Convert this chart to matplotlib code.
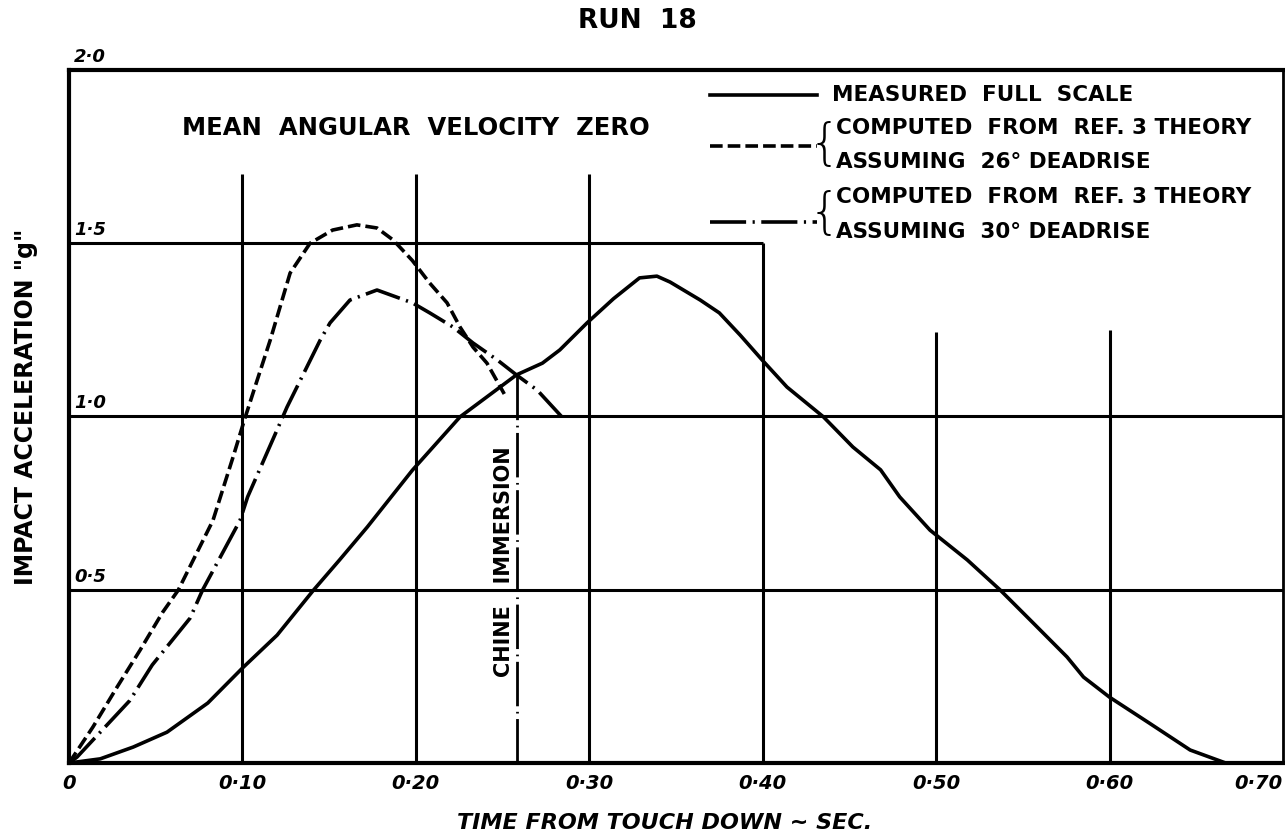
import matplotlib
matplotlib.use("Agg")
import matplotlib.pyplot as plt

# measured full scale
t_meas = [0, 0.018, 0.037, 0.0565, 0.08, 0.10, 0.12, 0.141, 0.156, 0.172, 0.198,
          0.2255, 0.2486, 0.258, 0.273, 0.283, 0.2987, 0.314, 0.329, 0.339, 0.3466,
          0.364, 0.375, 0.387, 0.3997, 0.414, 0.435, 0.452, 0.468, 0.479, 0.4965,
          0.518, 0.537, 0.556, 0.5755, 0.585, 0.600, 0.623, 0.6465, 0.667]
g_meas = [0, 0.012, 0.046, 0.089, 0.173, 0.274, 0.369, 0.499, 0.586, 0.681, 0.845,
          0.999, 1.085, 1.12, 1.154, 1.192, 1.27, 1.34, 1.40, 1.405, 1.388,
          1.336, 1.299, 1.235, 1.163, 1.085, 0.999, 0.912, 0.846, 0.768, 0.672,
          0.586, 0.499, 0.404, 0.306, 0.248, 0.190, 0.115, 0.0375, 0.0]

# computed, 26 deg deadrise
t_26 = [0, 0.0138, 0.0277, 0.041, 0.054, 0.063, 0.083, 0.0946, 0.1015, 0.108,
        0.116, 0.1275, 0.139, 0.152, 0.166, 0.1776, 0.187, 0.198, 0.208, 0.218,
        0.2255, 0.233, 0.241, 0.251]
g_26 = [0, 0.104, 0.219, 0.326, 0.435, 0.499, 0.70, 0.883, 0.996, 1.097,
        1.22, 1.414, 1.50, 1.538, 1.553, 1.544, 1.509, 1.45, 1.385, 1.328,
        1.258, 1.20, 1.154, 1.065]

# computed, 30 deg deadrise
t_30 = [0, 0.0046, 0.035, 0.048, 0.0698, 0.077, 0.0986, 0.103, 0.1217, 0.1257,
        0.1448, 0.1505, 0.162, 0.1776, 0.198, 0.208, 0.2215, 0.233, 0.247, 0.258,
        0.27, 0.284]
g_30 = [0, 0.017, 0.18, 0.283, 0.418, 0.499, 0.70, 0.768, 0.981, 1.027,
        1.22, 1.27, 1.336, 1.365, 1.328, 1.299, 1.258, 1.212, 1.163, 1.12,
        1.076, 1.0]

chine_t = 0.2584
chine_g = 1.12

xticks = [0, 0.1, 0.2, 0.3, 0.4, 0.5, 0.6, 0.7]
xticklabels = ["0", "0·10", "0·20", "0·30", "0·40", "0·50", "0·60", "0·70"]
yvals = [0.5, 1.0, 1.5, 2.0]
ylabels = ["0·5", "1·0", "1·5", "2·0"]

# partial grid lines as drawn on the original sheet
vgrid_x = [0.1, 0.2, 0.3, 0.4, 0.5, 0.6]
vgrid_top = [1.70, 1.70, 1.70, 1.5, 1.245, 1.25]
hgrid_y = [0.5, 1.0, 1.5]
hgrid_right = [0.7, 0.7, 0.4]

fig = plt.figure(figsize=(12.85, 8.36), dpi=100)
ax = fig.add_axes([0.0537, 0.0873, 0.9447, 0.829])
ax.set_xlim(0, 0.7)
ax.set_ylim(0, 2.0)

ax.vlines(vgrid_x, 0, vgrid_top, colors="black", lw=2.2)
ax.hlines(hgrid_y, 0, hgrid_right, colors="black", lw=2.2)

lw = 2.6
ax.plot(t_meas, g_meas, color="black", lw=lw, solid_capstyle="round")
ax.plot(t_26, g_26, color="black", lw=lw, linestyle=(0, (3.5, 1.4)))
ax.plot(t_30, g_30, color="black", lw=lw, linestyle=(0, (10, 1.8, 0.6, 1.8)))

# chine immersion marker
ax.plot([chine_t, chine_t], [0, chine_g], color="black", lw=2.0,
        linestyle=(0, (16, 2, 0.6, 2)))
ax.text(chine_t - 0.0078, 0.58, "CHINE   IMMERSION", rotation=90, ha="center",
        va="center", fontsize=15, fontweight="bold")

for s in ax.spines.values():
    s.set_linewidth(3)
ax.spines["right"].set_linewidth(2)

ax.set_xticks(xticks)
ax.set_xticklabels(xticklabels, fontsize=14, fontweight="bold", style="italic")
ax.tick_params(axis="x", length=0, pad=8)
ax.get_xticklabels()[-1].set_horizontalalignment("right")
ax.set_yticks([])

for v, lab in zip(yvals, ylabels):
    ax.text(0.003, v + 0.012, lab, ha="left", va="bottom", fontsize=13,
            fontweight="bold", style="italic", clip_on=False)

ax.text(0.065, 1.833, "MEAN  ANGULAR  VELOCITY  ZERO", ha="left", va="center",
        fontsize=17.5, fontweight="bold")

# hand drawn key
kx0, kx1 = 0.3697, 0.4314
ax.plot([kx0, kx1], [1.928, 1.928], color="black", lw=lw)
ax.plot([kx0, kx1], [1.781, 1.781], color="black", lw=lw, linestyle=(0, (3.5, 1.4)))
ax.plot([kx0, kx1], [1.562, 1.562], color="black", lw=lw, linestyle=(0, (10, 1.8, 0.6, 1.8)))
kfs = 15.5
ax.text(0.440, 1.928, "MEASURED  FULL  SCALE", ha="left", va="center",
        fontsize=kfs, fontweight="bold")
ax.text(0.4355, 1.784, "{", ha="center", va="center", fontsize=36, fontweight="light")
ax.text(0.4425, 1.833, "COMPUTED  FROM  REF. 3 THEORY", ha="left", va="center",
        fontsize=kfs, fontweight="bold")
ax.text(0.4425, 1.735, "ASSUMING  26° DEADRISE", ha="left", va="center",
        fontsize=kfs, fontweight="bold")
ax.text(0.4355, 1.583, "{", ha="center", va="center", fontsize=36, fontweight="light")
ax.text(0.4425, 1.633, "COMPUTED  FROM  REF. 3 THEORY", ha="left", va="center",
        fontsize=kfs, fontweight="bold")
ax.text(0.4425, 1.532, "ASSUMING  30° DEADRISE", ha="left", va="center",
        fontsize=kfs, fontweight="bold")

fig.text(0.496, 0.975, "RUN  18", ha="center", va="center", fontsize=19, fontweight="bold")
fig.text(0.5175, 0.016, "TIME FROM TOUCH DOWN ~ SEC.", ha="center", va="center",
         fontsize=16, fontweight="bold", style="italic")
fig.text(0.02, 0.513, 'IMPACT ACCELERATION "g"', ha="center", va="center",
         rotation=90, fontsize=17, fontweight="bold")

fig.savefig("out.png", dpi=100)
